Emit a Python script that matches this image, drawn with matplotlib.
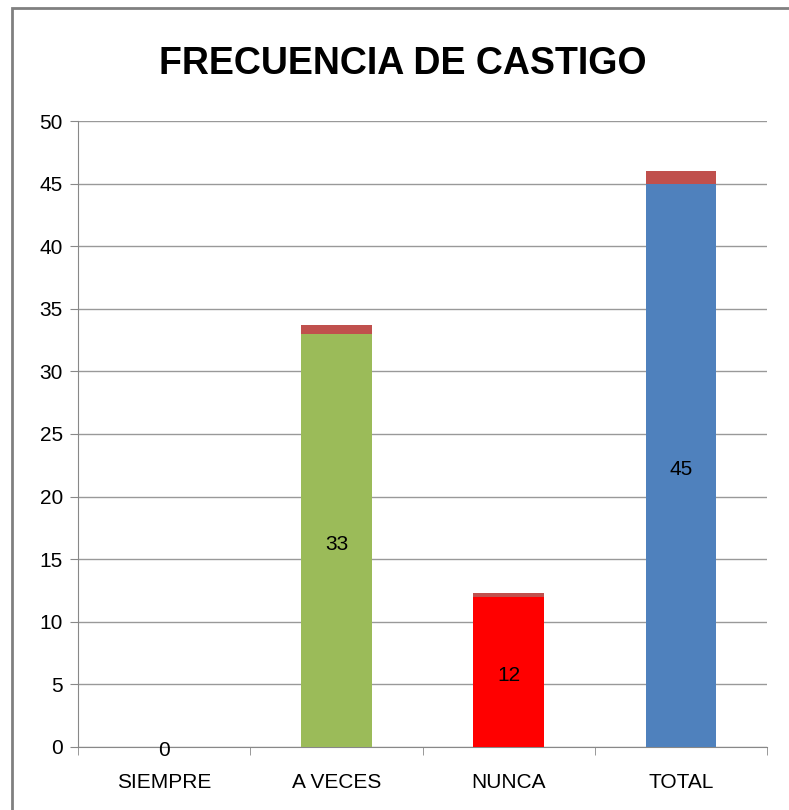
import matplotlib.pyplot as plt
from matplotlib.patches import Rectangle
import numpy as np

categorias = ["SIEMPRE", "A VECES", "NUNCA", "TOTAL"]
frecuencia = [0, 33, 12, 45]
proporcion = [0, 0.73, 0.27, 1.0]
colores = ["#9BBB59", "#9BBB59", "#FF0000", "#4F81BD"]

plt.rcParams['font.family'] = ['Liberation Sans', 'DejaVu Sans']

fig = plt.figure(figsize=(7.89, 8.10), dpi=100)
ax = fig.add_axes([0.0989, 0.0778, 0.8733, 0.7728])

x = np.arange(len(categorias))
ax.bar(x, frecuencia, width=0.41, color=colores, zorder=3)
ax.bar(x, proporcion, width=0.41, bottom=frecuencia, color="#C0504D", zorder=3)

# etiquetas de datos
for xi, v in zip(x, frecuencia):
    ax.text(xi, v / 2 - 0.3, str(v), ha="center", va="center", fontsize=15, zorder=4)

ax.set_xlim(-0.5, len(categorias) - 0.5)
ax.set_ylim(0, 50)
ax.set_yticks(range(0, 51, 5))
ax.set_xticks(x)
ax.set_xticklabels(categorias)
ax.set_xticks(np.arange(-0.5, len(categorias)), minor=True)
ax.tick_params(axis="x", which="major", length=0, pad=19, labelsize=15)
ax.tick_params(axis="x", which="minor", length=6, color="#888888")
ax.tick_params(axis="y", length=6, color="#888888", labelsize=15, pad=5)
ax.grid(axis="y", color="#999999", linewidth=1, zorder=0)
for s in ["top", "right"]:
    ax.spines[s].set_visible(False)
ax.spines["left"].set_color("#888888")
ax.spines["bottom"].set_color("#888888")

fig.text(0.51, 0.921, "FRECUENCIA DE CASTIGO", ha="center", va="center",
         fontsize=27, fontweight="bold")

# borde del grafico
fig.patches.append(Rectangle((12 / 789, -0.01), 1.0, 1 - 8 / 810 + 0.01,
                             transform=fig.transFigure, fill=False,
                             edgecolor="#808080", linewidth=2))

plt.savefig("out.png", dpi=100)
